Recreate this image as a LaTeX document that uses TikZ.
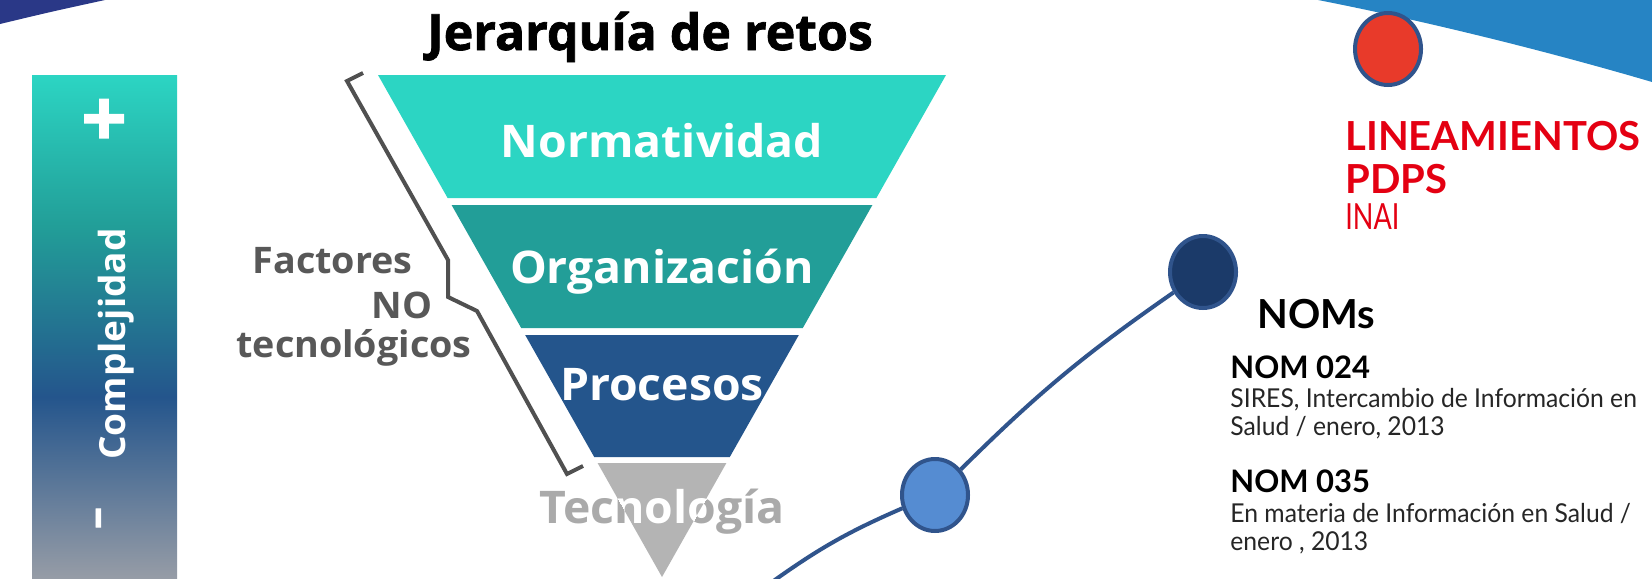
\documentclass[tikz,border=0pt]{standalone}
\usepackage{fontspec}
\setmainfont{Open Sans}[FakeStretch=1.03]
\newfontfamily\titlefont[BoldFeatures={FakeBold=1.5}]{Open Sans}
\newfontfamily\latofont{Lato}
\newfontfamily\bodyfont[FakeStretch=0.95]{Lato}
\newfontfamily\narrowfont[FakeStretch=0.75]{Lato}
\usetikzlibrary{shapes.geometric}
\definecolor{normcol}{RGB}{44,213,195}
\definecolor{orgcol}{RGB}{34,158,152}
\definecolor{proccol}{RGB}{36,85,140}
\definecolor{teccol}{RGB}{180,180,180}
\definecolor{tectext}{RGB}{170,170,170}
\definecolor{barbot}{RGB}{150,156,166}
\definecolor{bracketgray}{RGB}{80,80,80}
\definecolor{factgray}{RGB}{88,88,88}
\definecolor{rojo}{RGB}{228,0,18}
\definecolor{hitorojo}{RGB}{232,58,42}
\definecolor{hitoazul}{RGB}{27,58,105}
\definecolor{hitoclaro}{RGB}{85,140,210}
\definecolor{borde}{RGB}{48,84,140}
\definecolor{swooshnavy}{RGB}{42,56,135}
\definecolor{swooshblue}{RGB}{38,132,196}
\pgfdeclareverticalshading{complejidad}{100bp}{color(0bp)=(barbot); color(25bp)=(barbot); color(43bp)=(proccol); color(60bp)=(orgcol); color(75bp)=(normcol); color(100bp)=(normcol)}

\begin{document}
\begin{tikzpicture}[x=0.5pt,y=-0.5pt]
    \tikzstyle{banda}=[anchor=base,inner sep=0pt,text=white,font=\bfseries\fontsize{22.5}{26}\selectfont]
    \tikzstyle{factor}=[anchor=base east,inner sep=0pt,text=factgray,font=\bfseries\fontsize{18.3}{20}\selectfont]
    \tikzstyle{hito}=[ellipse,draw=borde,line width=2pt,minimum width=33pt,minimum height=36pt,inner sep=0pt]
    \tikzstyle{titulo}=[anchor=base west,inner sep=0pt,font=\latofont\bfseries\fontsize{20}{20}\selectfont]
    \tikzstyle{norma}=[anchor=base west,inner sep=0pt,text=black,font=\latofont\bfseries\fontsize{15.5}{16}\selectfont]
    \tikzstyle{cuerpo}=[anchor=base west,inner sep=0pt,text=black!85,font=\bodyfont\fontsize{13}{14}\selectfont]
    \useasboundingbox (0,0) rectangle (1652,578);
    \fill[white] (0,0) rectangle (1652,578);
    \fill[swooshnavy] (0,0) -- (105,0) .. controls (50,12) .. (0,24) -- cycle;
    \fill[swooshblue] (1318,0) .. controls (1430,22) and (1550,52) .. (1652,82) -- (1652,0) -- cycle;

    \shade[shading=complejidad] (32,75) rectangle (177,578);
    \node[text=white,font=\titlefont\bfseries\fontsize{40}{40}\selectfont] (mas) at (104,123) {+};
    \node[text=white,rotate=90,anchor=base,inner sep=0pt,font=\bfseries\fontsize{18}{20}\selectfont] (compl) at (125,344) {Complejidad};
    \node[text=white,rotate=90,font=\titlefont\bfseries\fontsize{22}{22}\selectfont] (menos) at (103,518) {–};

    \node[anchor=base,inner sep=0pt,font=\titlefont\bfseries\fontsize{25}{30}\selectfont] (jerarquia) at (650,50) {Jerarquía de retos};

    \foreach \ya/\yb/\col in {75/198/normcol, 205/328/orgcol, 335/457/proccol}
        \fill[\col] ({378+0.566*(\ya-75)},\ya) -- ({946-0.566*(\ya-75)},\ya) -- ({946-0.566*(\yb-75)},\yb) -- ({378+0.566*(\yb-75)},\yb) -- cycle;
    \fill[teccol] (597.6,463) -- (726.4,463) -- (662,577) -- cycle;

    \foreach \y/\t/\n in {157/Normatividad/norm, 283/Organización/orga, 400/Procesos/proc}
        \node[banda] (\n) at (662,\y) {\t};
    \node[banda,text=tectext] (tecn) at (662,523) {Tecnología};
    \begin{scope}
        \clip (597.6,463) -- (726.4,463) -- (662,577) -- cycle;
        \node[banda] (tecnb) at (662,523) {Tecnología};
    \end{scope}

    \draw[bracketgray,line width=2pt] (363,73) -- (347,81) -- (448,260) -- (448,297) -- (477,311) -- (567,474) -- (583,466);
    \node[factor] (fact) at (413,273) {Factores};
    \node[factor] (no) at (433,318) {NO};
    \node[factor] (tecno) at (472,357) {tecnológicos};

    \node[hito,fill=hitorojo] (lin) at (1388,49) {};
    \node[hito,fill=hitoazul] (nom) at (1203,272) {};
    \node[hito,fill=hitoclaro] (tec) at (935,495) {};
    \coordinate (origen) at (772,582);
    \draw[borde,line width=2pt] (origen) to[bend left=6] (tec) (tec) to[bend left=5] (nom);

    \node[titulo,text=rojo] (linea) at (1345,150) {LINEAMIENTOS};
    \node[titulo,text=rojo] (pdps) at (1345,193) {PDPS};
    \node[anchor=base west,inner sep=0pt,text=rojo,font=\narrowfont\fontsize{18}{18}\selectfont] (inai) at (1345,229) {INAI};
    \node[titulo] (noms) at (1257,328) {NOMs};
    \node[norma] (nomA) at (1230,378) {NOM 024};
    \node[cuerpo] (nomAa) at (1230,407) {SIRES, Intercambio de Información en};
    \node[cuerpo] (nomAb) at (1230,435) {Salud / enero, 2013};
    \node[norma] (nomB) at (1230,492) {NOM 035};
    \node[cuerpo] (nomBa) at (1230,522) {En materia de Información en Salud /};
    \node[cuerpo] (nomBb) at (1230,550) {enero , 2013};
\end{tikzpicture}
\end{document}
